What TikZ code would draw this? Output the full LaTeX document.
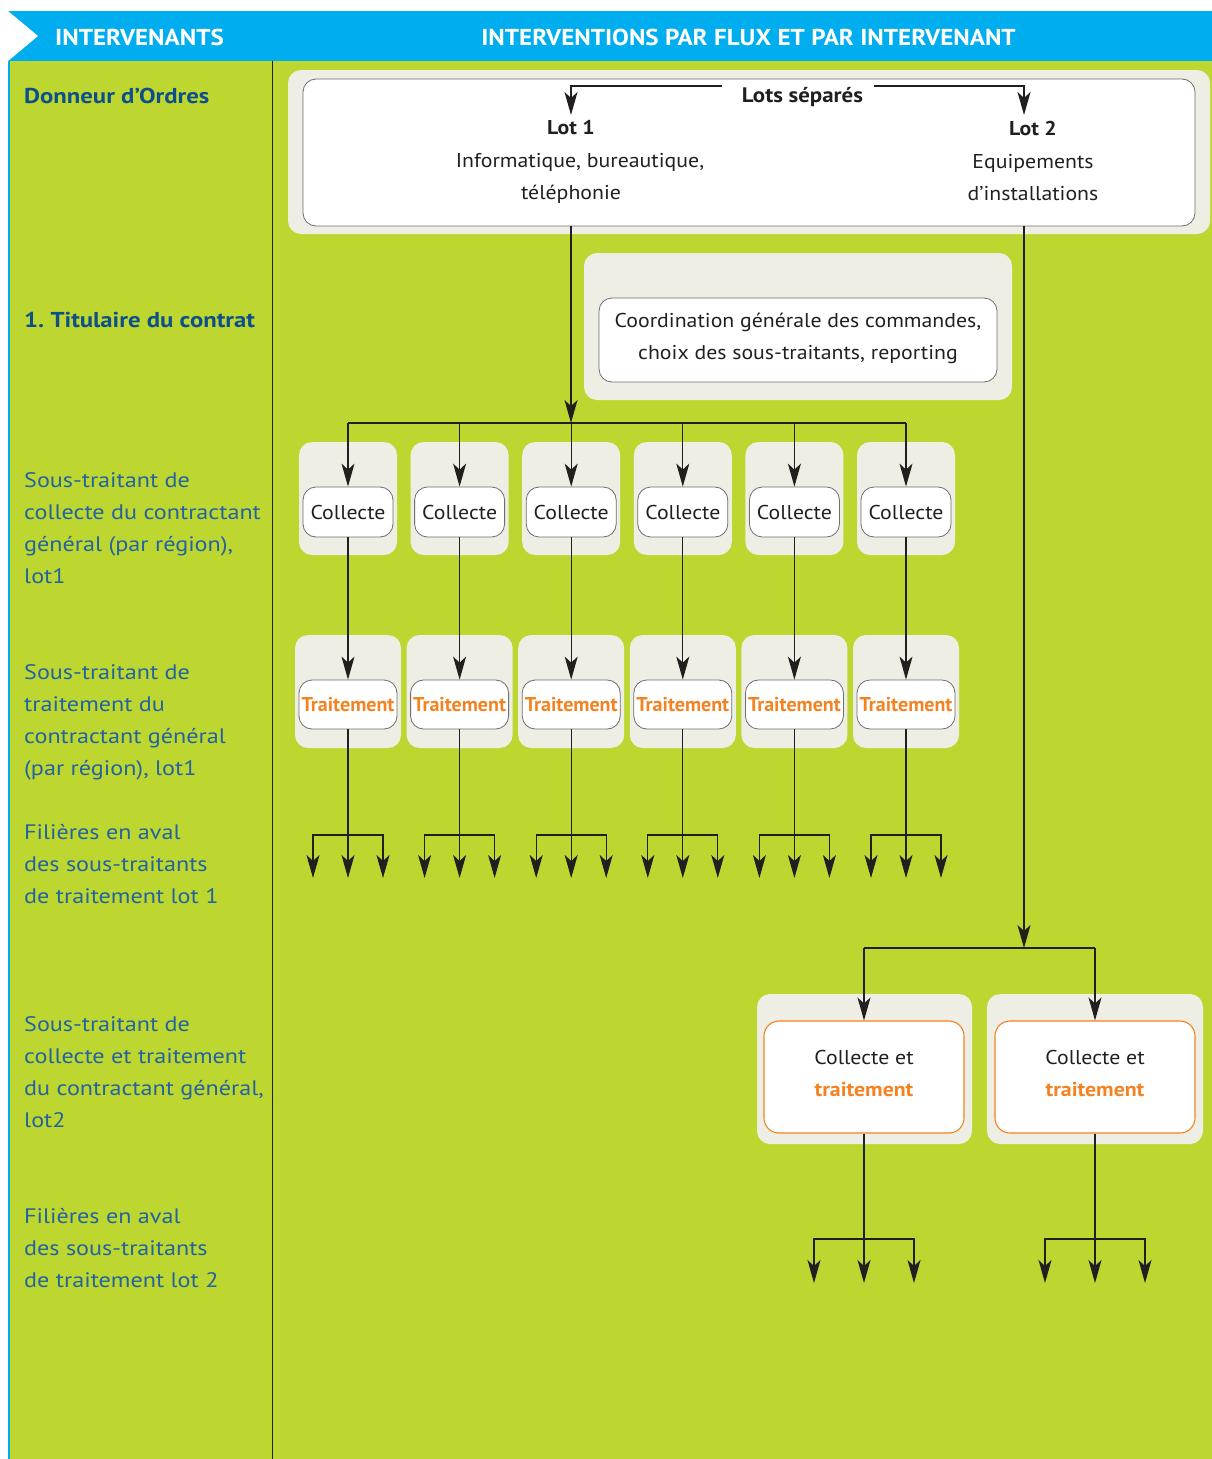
\documentclass[tikz,border=0pt]{standalone}
\usepackage{fontspec}
\setmainfont{PT Sans}[FakeStretch=1.09]
\newfontfamily\labelfont{PT Sans}[FakeStretch=1.15]
\newfontfamily\tightfont{PT Sans}
\usetikzlibrary{arrows.meta,calc}
\frenchspacing

\definecolor{hdrblue}{HTML}{00AEEF}
\definecolor{bggreen}{HTML}{BED730}
\definecolor{panel}{HTML}{EEEEE4}
\definecolor{accent}{HTML}{F58220}
\definecolor{ink}{HTML}{231F20}
\definecolor{cardline}{HTML}{6D6E70}
\definecolor{titleblue}{HTML}{0D4F8B}
\definecolor{labelblue}{HTML}{2263A0}

\tikzset{
  panelbox/.style={fill=panel, draw=none, rounded corners=13pt, inner sep=0pt},
  card/.style={fill=white, draw=cardline, line width=0.8pt, rounded corners=13pt, inner sep=0pt},
  hotcard/.style={fill=white, draw=accent, line width=1.1pt, rounded corners=15pt, inner sep=0pt},
  body/.style={font=\fontsize{20}{32}\selectfont, text=ink, align=center, inner sep=0pt},
  bodybold/.style={body, font=\fontsize{20}{32}\selectfont\bfseries},
  hot/.style={font=\tightfont\fontsize{20}{32}\selectfont\bfseries, text=accent, inner sep=0pt},
  header/.style={font=\fontsize{23}{28}\selectfont\bfseries, text=white, inner sep=0pt},
  rowtitle/.style={font=\labelfont\fontsize{21.5}{32}\selectfont\bfseries, text=titleblue, anchor=base west, align=left, inner sep=0pt},
  rowlabel/.style={font=\labelfont\fontsize{21}{32}\selectfont, text=labelblue, anchor=base west, align=left, inner sep=0pt},
  link/.style={draw=ink, line width=1.2pt},
  flow/.style={draw=ink, line width=1.2pt, -{Stealth[length=23pt,width=13pt,inset=6pt]}},
}

\begin{document}
\begin{tikzpicture}[x=1pt,y=-1pt]
  \useasboundingbox (0,0) rectangle (1212,1459);
  % page and band backgrounds
  \fill[white] (0,0) rectangle (1212,1459);
  \fill[bggreen] (8,61) rectangle (1212,1459);
  \fill[hdrblue] (8,11) rectangle (1212,61);
  \fill[white] (8,11) -- (38,36) -- (8,61) -- cycle;
  \draw[hdrblue, line width=1.5pt] (9,61) -- (9,1459);
  \draw[ink, line width=1pt] (272,61) -- (272,1459);

  % column headings
  \node[header] (hleft) at (139.5,37) {INTERVENANTS};
  \node[header] (hright) at (748.5,37) {INTERVENTIONS PAR FLUX ET PAR INTERVENANT};

  % row labels (anchored at the baseline of their last line)
  \node[rowtitle] (r0) at (24,103) {Donneur d’Ordres};
  \node[rowtitle] (r1) at (24,327) {1. Titulaire du contrat};
  \node[rowlabel] (r2) at (24,583) {Sous-traitant de\\collecte du contractant\\général (par région),\\lot1};
  \node[rowlabel] (r3) at (24,775) {Sous-traitant de\\traitement du\\contractant général\\(par région), lot1};
  \node[rowlabel] (r4) at (24,903) {Filières en aval\\des sous-traitants\\de traitement lot 1};
  \node[rowlabel] (r5) at (24,1127) {Sous-traitant de\\collecte et traitement\\du contractant général,\\lot2};
  \node[rowlabel] (r6) at (24,1287) {Filières en aval\\des sous-traitants\\de traitement lot 2};

  % contracting authority: two separate lots
  \node[panelbox, minimum width=922pt, minimum height=164pt] (toppanel) at (749,152) {};
  \node[card, minimum width=892pt, minimum height=147pt] (topcard) at (749,152.5) {};
  \node[body, font=\fontsize{21}{32}\selectfont\bfseries] (lots) at (802.5,97) {Lots séparés};
  \node[bodybold] (lot1) at (571,128) {Lot 1};
  \node[body] (lot1d) at (580,178) {Informatique, bureautique,\\\hspace*{-18pt}téléphonie};
  \node[bodybold] (lot2) at (1033,128) {Lot 2};
  \node[body] (lot2d) at (1033,178) {Equipements\\d’installations};
  \coordinate (splitL) at (722,86);
  \coordinate (splitR) at (874,86);
  \coordinate (in1) at (571,115);
  \coordinate (in2) at (1024,115);
  \draw[flow] (splitL) -| (in1);
  \draw[flow] (splitR) -| (in2);

  % main contractor
  \node[panelbox, minimum width=428pt, minimum height=147pt] (coordpanel) at (798,326.5) {};
  \node[card, minimum width=398pt, minimum height=84pt] (coord) at (798,340) {};
  \node[body] (coordt) at (798,338)
    {Coordination générale des commandes,\\choix des sous-traitants, reporting};

  % lot 1: collection and treatment per region
  \coordinate (hub1) at (571,423);
  \draw[flow] (topcard.south -| in1) -- (hub1);
  \foreach \i in {1,...,6} {
    \pgfmathsetmacro{\cx}{348+(\i-1)*111.6}
    \node[panelbox, minimum width=98pt, minimum height=113pt] (cp\i) at (\cx,498.5) {};
    \node[card, minimum width=90pt, minimum height=50pt, body] (c\i) at (\cx,512) {Collecte};
    \node[panelbox, minimum width=106pt, minimum height=113pt] (tp\i) at (\cx,691.5) {};
    \node[card, minimum width=98pt, minimum height=49pt, hot] (t\i) at (\cx,704.5) {Traitement};
    \coordinate (f\i) at (\cx,835);
  }
  \draw[link] (hub1 -| c1) -- (hub1 -| c6);
  \foreach \i in {1,...,6} {
    \draw[flow] (hub1 -| c\i) -- (c\i.north);
    \draw[flow] (c\i.south) -- (t\i.north);
    \draw[flow] (t\i.south) -- ($(f\i)+(0,43)$);
    \draw[flow] (f\i) -| ($(f\i)+(-35,43)$);
    \draw[flow] (f\i) -| ($(f\i)+(35,43)$);
  }

  % lot 2: combined collection and treatment
  \coordinate (hub2) at (1024,948);
  \draw[flow] (topcard.south -| in2) -- (hub2);
  \node[panelbox, minimum width=215pt, minimum height=150pt] (kp1) at (864.5,1069) {};
  \node[panelbox, minimum width=216pt, minimum height=150pt] (kp2) at (1095,1069) {};
  \node[hotcard, minimum width=200pt, minimum height=112pt] (k1) at (864,1077) {};
  \node[hotcard, minimum width=200pt, minimum height=112pt] (k2) at (1095,1077) {};
  \node[body] (k1t) at ($(k1)+(0,-3)$) {Collecte et\\\textcolor{accent}{\bfseries traitement}};
  \node[body] (k2t) at ($(k2)+(0,-3)$) {Collecte et\\\textcolor{accent}{\bfseries traitement}};
  \draw[link] (hub2 -| k1) -- (hub2 -| k2);
  \draw[flow] (hub2 -| k1) -- (k1.north);
  \draw[flow] (hub2 -| k2) -- (k2.north);
  \coordinate (g1) at (864,1239);
  \coordinate (g2) at (1095,1239);
  \foreach \j in {1,2} {
    \draw[flow] (k\j.south) -- ($(g\j)+(0,44)$);
    \draw[flow] (g\j) -| ($(g\j)+(-50,44)$);
    \draw[flow] (g\j) -| ($(g\j)+(50,44)$);
  }
\end{tikzpicture}
\end{document}
